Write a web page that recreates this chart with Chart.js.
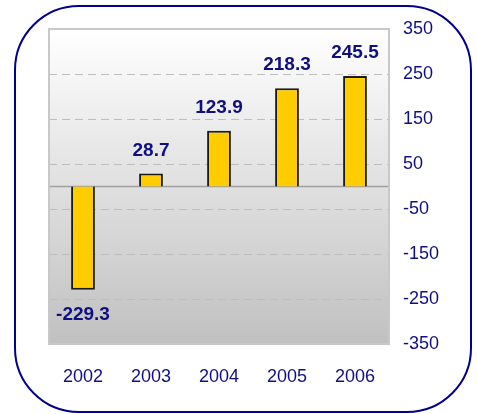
<!DOCTYPE html>
<html>
<head>
<meta charset="utf-8">
<script src="https://cdn.jsdelivr.net/npm/chart.js@4/dist/chart.umd.min.js"></script>
<style>
  body { margin: 0; background: #fff; }
  canvas { display: block; }
</style>
</head>
<body>
<canvas id="chart" width="477" height="414"></canvas>
<script>
// chart data
const years = ['2002', '2003', '2004', '2005', '2006'];
const values = [-229.3, 28.7, 123.9, 218.3, 245.5];
const yTicks = [350, 250, 150, 50, -50, -150, -250, -350];

const navy = '#0f0f82';
const fontFamily = '"Liberation Sans", Arial, sans-serif';

// frame, gradient background, zero line and value labels
const decorations = {
    id: 'decorations',
    beforeDraw(chart) {
        const { ctx, chartArea: a } = chart;
        ctx.save();
        ctx.fillStyle = '#fff';
        ctx.fillRect(0, 0, chart.width, chart.height);

        const grad = ctx.createLinearGradient(0, a.top, 0, a.bottom);
        grad.addColorStop(0, '#ffffff');
        grad.addColorStop(1, '#c0c0c0');
        ctx.fillStyle = grad;
        ctx.fillRect(a.left, a.top, a.right - a.left, a.bottom - a.top);

        ctx.strokeStyle = '#00008b';
        ctx.lineWidth = 2;
        ctx.beginPath();
        ctx.roundRect(15, 6, 456, 406, 64);
        ctx.stroke();
        ctx.restore();
    },
    beforeDatasetsDraw(chart) {
        const { ctx, chartArea: a } = chart;
        const y0 = chart.scales.y.getPixelForValue(0);
        ctx.save();
        ctx.strokeStyle = '#a0a0a0';
        ctx.lineWidth = 1.5;
        ctx.beginPath();
        ctx.moveTo(a.left, y0);
        ctx.lineTo(a.right, y0);
        ctx.stroke();

        ctx.strokeStyle = '#c8c8c8';
        ctx.lineWidth = 2;
        ctx.strokeRect(a.left, a.top, a.right - a.left, a.bottom - a.top);
        ctx.restore();
    },
    afterDatasetsDraw(chart) {
        const { ctx } = chart;
        const meta = chart.getDatasetMeta(0);
        ctx.save();
        ctx.fillStyle = navy;
        ctx.font = 'bold 19px ' + fontFamily;
        ctx.textAlign = 'center';
        ctx.textBaseline = 'alphabetic';
        meta.data.forEach((bar, i) => {
            const v = values[i];
            const y = v >= 0 ? bar.y - 18 : bar.y + 30;
            ctx.fillText(String(v), bar.x, y);
        });
        ctx.restore();
    }
};

new Chart(document.getElementById('chart').getContext('2d'), {
    type: 'bar',
    data: {
        labels: years,
        datasets: [{
            data: values,
            backgroundColor: '#ffcc00',
            borderColor: '#1a1a1a',
            borderWidth: 2,
            barPercentage: 0.35,
            categoryPercentage: 1
        }]
    },
    options: {
        responsive: false,
        animation: false,
        layout: {
            padding: { left: 49, top: 29, right: 0, bottom: 0 }
        },
        plugins: {
            legend: { display: false },
            tooltip: { enabled: false }
        },
        scales: {
            x: {
                grid: { display: false },
                border: { display: false },
                ticks: {
                    color: navy,
                    padding: 14,
                    font: { family: fontFamily, size: 18 }
                },
                afterFit(scale) { scale.height = 70; }
            },
            y: {
                position: 'right',
                min: -350,
                max: 350,
                afterBuildTicks(scale) {
                    scale.ticks = yTicks.map(v => ({ value: v }));
                },
                grid: {
                    color: '#bdbdbd',
                    lineWidth: 1,
                    drawTicks: false
                },
                border: { display: false, dash: [8, 5] },
                ticks: {
                    color: navy,
                    padding: 14,
                    font: { family: fontFamily, size: 18 }
                },
                afterFit(scale) { scale.width = 88; }
            }
        }
    },
    plugins: [decorations]
});
</script>
</body>
</html>
